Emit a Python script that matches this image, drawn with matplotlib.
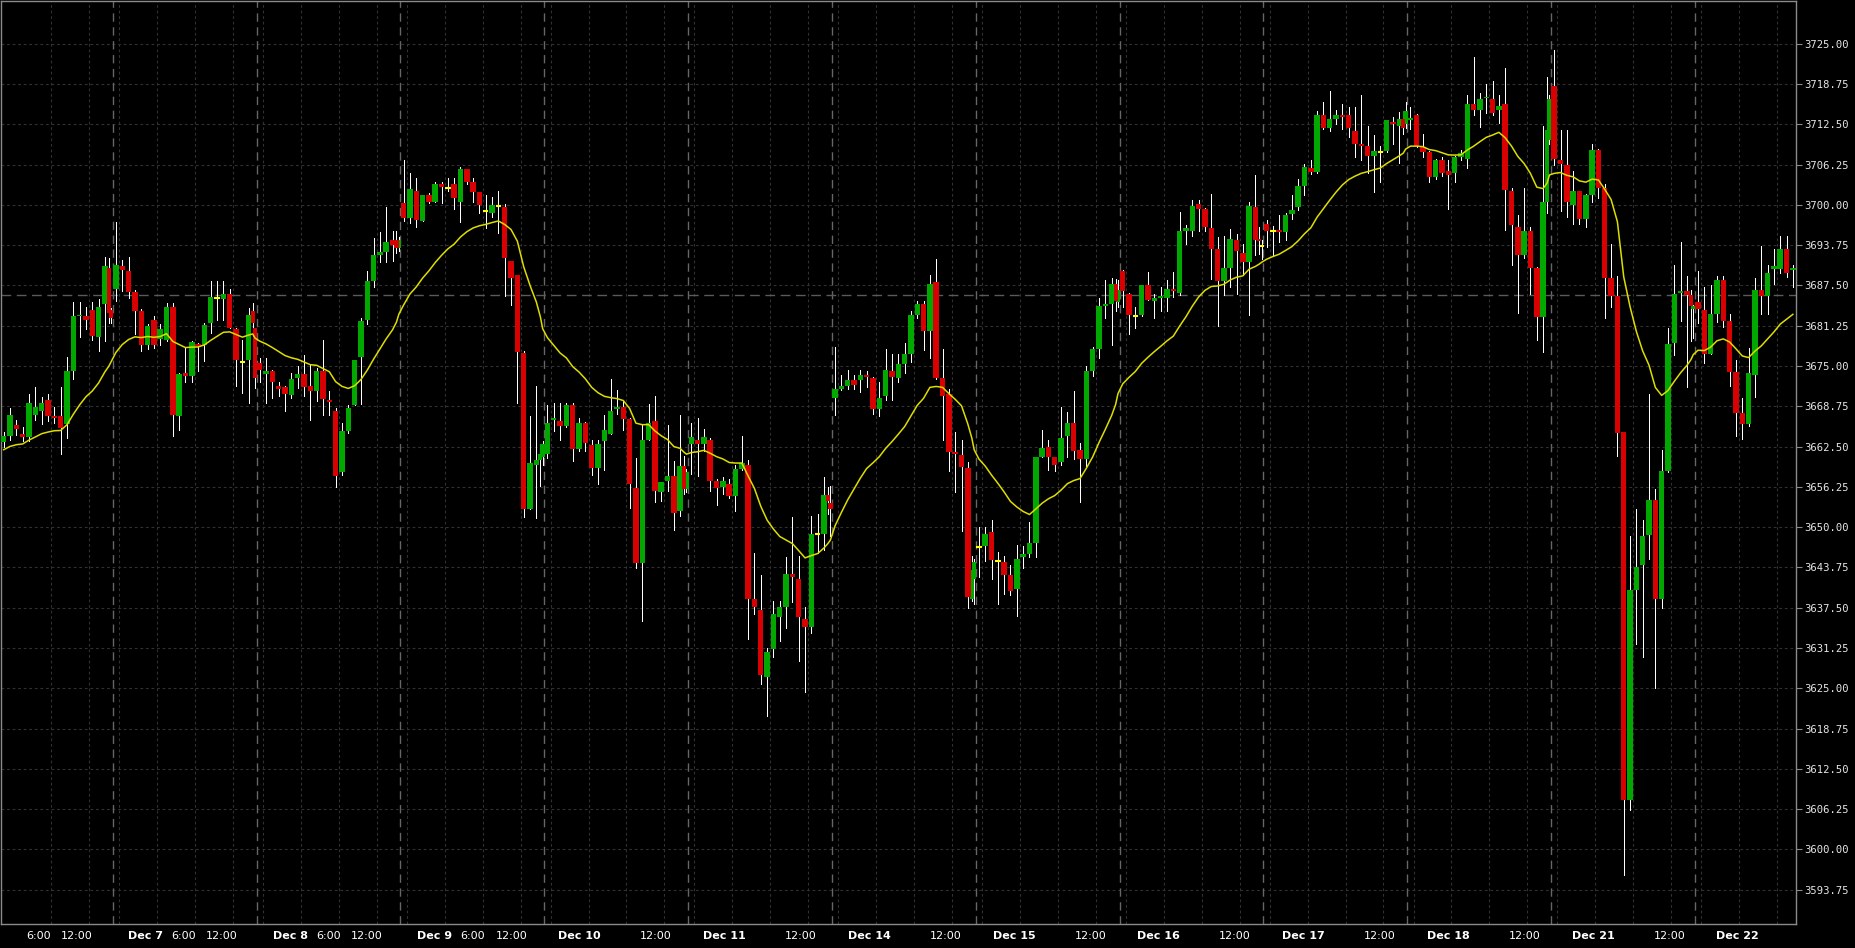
import numpy as np
import pandas as pd
import matplotlib
matplotlib.use("Agg")
import matplotlib.pyplot as plt
from matplotlib.transforms import blended_transform_factory

# ---------------- data ----------------
sessions = ["Dec 4", "Dec 7", "Dec 8", "Dec 9", "Dec 10", "Dec 11", "Dec 14",
            "Dec 15", "Dec 16", "Dec 17", "Dec 18", "Dec 21", "Dec 22"]
first_session_first_slot = 5      # first visible bar is 22:00
last_session_bar_count = 16       # last session runs 17:00 .. 08:00

open_ = [
    # Dec 4
    3663.2, 3664.1, 3665.9, 3664.4, 3664.0, 3667.4, 3668.0, 3669.7, 3667.3, 3667.2, 3666.0, 3674.3, 3682.7, 3682.8, 3683.7, 3679.5, 3684.6, 3690.2, 3683.7,
    # Dec 7
    3687.0, 3690.5, 3689.8, 3686.5, 3683.5, 3678.3, 3682.1, 3679.2, 3679.1, 3684.2, 3667.2, 3673.9, 3673.4, 3678.4, 3678.3, 3681.7, 3685.6, 3685.4, 3686.1, 3680.8, 3675.6, 3675.9, 3683.5, 3680.9,
    # Dec 8
    3675.4, 3673.8, 3674.2, 3671.9, 3671.7, 3670.5, 3673.1, 3673.8, 3671.9, 3671.2, 3674.3, 3669.8, 3668.0, 3658.6, 3664.9, 3669.0, 3676.4, 3682.1, 3688.2, 3692.2, 3692.7, 3694.6, 3694.6, 3693.3,
    # Dec 9
    3700.3, 3698.0, 3702.2, 3697.5, 3701.6, 3700.5, 3703.3, 3702.7, 3703.3, 3700.5, 3705.5, 3703.6, 3702.0, 3699.0, 3698.8, 3699.8, 3699.7, 3691.3, 3689.2, 3677.0, 3652.8, 3659.7, 3660.4, 3660.9,
    # Dec 10
    3661.3, 3666.6, 3666.5, 3665.7, 3668.9, 3662.1, 3666.1, 3662.7, 3659.2, 3663.3, 3664.5, 3668.4, 3668.6, 3666.8, 3656.1, 3644.5, 3663.6, 3666.5, 3655.5, 3657.1, 3658.0, 3652.5, 3659.5, 3655.9,
    # Dec 11
    3662.9, 3663.6, 3662.9, 3663.6, 3657.1, 3656.3, 3656.7, 3654.8, 3659.1, 3659.7, 3638.8, 3637.2, 3626.7, 3631.1, 3636.1, 3637.6, 3642.8, 3642.0, 3635.8, 3634.5, 3648.9, 3649.0, 3655.0, 3653.8,
    # Dec 14
    3670.0, 3671.5, 3671.9, 3672.8, 3672.8, 3673.6, 3673.2, 3668.3, 3670.3, 3674.3, 3673.2, 3675.3, 3676.8, 3682.9, 3684.6, 3680.5, 3688.0, 3673.2, 3670.7, 3661.6, 3661.2, 3659.2, 3638.9, 3642.0,
    # Dec 15
    3646.9, 3647.0, 3649.3, 3644.7, 3644.6, 3642.5, 3640.4, 3645.4, 3645.8, 3647.5, 3660.9, 3662.5, 3660.9, 3660.1, 3664.1, 3666.2, 3662.0, 3660.5, 3674.3, 3677.7, 3684.3, 3684.7, 3687.8, 3685.0,
    # Dec 16
    3689.8, 3686.2, 3682.8, 3682.9, 3687.5, 3685.1, 3685.5, 3685.5, 3687.0, 3686.3, 3696.0, 3696.0, 3700.1, 3699.3, 3696.4, 3693.1, 3688.2, 3690.2, 3694.6, 3692.6, 3691.1, 3699.6, 3694.7, 3693.7,
    # Dec 17
    3697.1, 3696.0, 3696.1, 3695.8, 3698.6, 3699.7, 3703.0, 3705.8, 3705.1, 3714.0, 3711.9, 3713.3, 3713.9, 3713.9, 3711.5, 3709.5, 3709.1, 3707.6, 3708.2, 3708.3, 3712.8, 3712.3, 3713.3, 3712.6,
    # Dec 18
    3713.1, 3713.9, 3709.0, 3708.2, 3704.3, 3706.9, 3705.2, 3705.0, 3707.4, 3707.2, 3715.6, 3714.8, 3716.6, 3716.5, 3714.8, 3715.6, 3702.2, 3696.5, 3692.3, 3695.9, 3690.2, 3682.6, 3700.5, 3710.0,
    # Dec 21
    3718.4, 3707.0, 3706.2, 3700.0, 3702.1, 3697.8, 3701.6, 3708.5, 3702.6, 3688.7, 3685.8, 3664.8, 3607.6, 3640.2, 3644.1, 3648.8, 3654.2, 3638.9, 3658.7, 3678.6, 3686.4, 3686.6, 3686.0, 3683.9,
    # Dec 22
    3685.0, 3683.7, 3676.9, 3683.0, 3688.3, 3682.0, 3674.1, 3667.7, 3666.0, 3673.6, 3686.8, 3685.9, 3690.0, 3690.0, 3693.1, 3689.9,
]
high = [
    3664.7, 3668.5, 3666.7, 3665.6, 3670.7, 3671.8, 3670.2, 3670.7, 3668.6, 3671.8, 3676.4, 3684.9, 3684.9, 3684.2, 3684.9, 3685.4, 3691.9, 3691.8, 3684.0,
    3697.3, 3691.5, 3691.9, 3686.8, 3683.8, 3681.5, 3682.8, 3681.5, 3684.8, 3684.8, 3673.9, 3677.8, 3678.9, 3678.6, 3681.7, 3688.2, 3688.2, 3688.2, 3686.9, 3680.9, 3679.1, 3684.0, 3684.8, 3680.9,
    3676.3, 3676.3, 3674.4, 3672.6, 3671.9, 3673.9, 3675.0, 3676.7, 3675.2, 3674.7, 3679.1, 3671.2, 3668.5, 3666.2, 3669.0, 3676.0, 3682.5, 3689.8, 3694.9, 3695.8, 3699.7, 3696.0, 3696.0, 3695.0,
    3707.0, 3704.9, 3704.1, 3701.6, 3701.8, 3703.6, 3703.5, 3704.2, 3704.2, 3705.9, 3705.6, 3704.1, 3702.0, 3701.6, 3701.3, 3702.2, 3700.1, 3691.3, 3689.2, 3677.4, 3667.2, 3671.9, 3661.3, 3663.4,
    3668.9, 3669.3, 3669.3, 3669.3, 3669.3, 3667.0, 3666.3, 3663.6, 3663.6, 3667.4, 3673.0, 3671.3, 3669.6, 3667.0, 3660.8, 3665.9, 3669.1, 3670.3, 3657.0, 3665.9, 3660.3, 3667.4, 3661.0, 3659.0,
    3666.1, 3667.0, 3665.2, 3663.8, 3657.5, 3657.8, 3657.5, 3659.7, 3664.2, 3660.4, 3646.0, 3642.5, 3631.3, 3638.5, 3638.5, 3645.4, 3651.6, 3645.5, 3637.6, 3651.8, 3652.0, 3657.8, 3656.2, 3656.4,
    3678.0, 3673.6, 3674.4, 3673.6, 3674.4, 3674.3, 3673.3, 3672.5, 3677.7, 3676.9, 3676.8, 3678.5, 3683.6, 3685.1, 3685.1, 3689.1, 3691.6, 3677.7, 3671.5, 3664.7, 3663.5, 3660.1, 3645.5, 3645.0,
    3650.0, 3650.0, 3651.1, 3646.1, 3645.6, 3644.1, 3647.2, 3647.0, 3650.8, 3660.9, 3665.0, 3663.5, 3660.9, 3668.6, 3667.9, 3671.1, 3663.0, 3675.0, 3678.0, 3685.6, 3688.3, 3688.7, 3688.5, 3688.3,
    3689.9, 3686.3, 3684.1, 3687.6, 3689.6, 3686.1, 3687.2, 3688.4, 3689.6, 3698.9, 3696.9, 3700.8, 3700.8, 3699.5, 3701.7, 3695.0, 3695.1, 3696.3, 3695.5, 3693.9, 3700.5, 3704.6, 3696.5, 3694.5,
    3697.6, 3696.8, 3698.5, 3698.8, 3701.6, 3704.0, 3706.4, 3706.9, 3714.6, 3716.0, 3717.6, 3714.8, 3715.6, 3715.2, 3715.2, 3717.1, 3712.3, 3710.8, 3709.2, 3713.2, 3713.7, 3714.4, 3714.4, 3716.0,
    3715.2, 3714.1, 3711.0, 3708.3, 3707.2, 3707.4, 3706.9, 3707.6, 3708.5, 3717.1, 3723.0, 3717.3, 3718.8, 3719.2, 3717.1, 3721.3, 3702.6, 3698.4, 3702.6, 3696.5, 3690.3, 3712.2, 3719.8, 3717.0,
    3724.0, 3711.6, 3711.6, 3705.3, 3702.2, 3701.7, 3709.5, 3708.6, 3703.2, 3694.0, 3688.9, 3664.8, 3648.6, 3652.8, 3651.1, 3670.7, 3655.9, 3662.0, 3680.9, 3690.6, 3694.2, 3688.9, 3686.8, 3684.5,
    3689.8, 3687.3, 3687.5, 3688.9, 3688.9, 3683.0, 3675.9, 3670.0, 3677.8, 3688.7, 3693.6, 3690.6, 3693.1, 3695.1, 3695.1, 3690.6,
]
low = [
    3662.5, 3663.6, 3664.3, 3663.3, 3663.4, 3666.6, 3666.0, 3666.4, 3666.2, 3661.4, 3663.8, 3673.0, 3679.5, 3680.7, 3679.0, 3677.3, 3678.9, 3681.7, 3681.7,
    3685.1, 3686.7, 3685.6, 3679.9, 3677.3, 3677.6, 3677.8, 3678.3, 3678.9, 3664.1, 3665.1, 3672.6, 3672.6, 3674.2, 3675.8, 3680.1, 3682.2, 3682.2, 3680.9, 3671.9, 3670.8, 3669.2, 3680.9, 3671.6,
    3672.6, 3669.2, 3670.0, 3670.3, 3668.0, 3670.0, 3671.6, 3670.3, 3666.7, 3669.5, 3667.4, 3667.4, 3656.3, 3658.1, 3664.6, 3668.9, 3669.1, 3681.5, 3687.2, 3691.2, 3691.2, 3691.3, 3692.6, 3692.8,
    3697.5, 3697.2, 3696.6, 3697.5, 3700.3, 3700.5, 3700.3, 3702.1, 3699.4, 3697.4, 3703.2, 3700.4, 3698.7, 3696.4, 3698.1, 3695.7, 3685.8, 3684.5, 3669.3, 3651.6, 3652.8, 3651.4, 3656.4, 3659.7,
    3660.8, 3664.9, 3663.6, 3665.5, 3660.3, 3661.8, 3661.8, 3658.1, 3656.7, 3658.9, 3664.5, 3667.5, 3665.0, 3653.0, 3643.7, 3635.5, 3663.6, 3653.9, 3654.0, 3655.6, 3649.5, 3651.7, 3655.2, 3655.5,
    3658.2, 3658.0, 3661.8, 3655.6, 3653.4, 3655.2, 3654.5, 3652.5, 3658.8, 3632.6, 3636.6, 3625.6, 3620.7, 3629.9, 3632.4, 3634.4, 3638.4, 3629.3, 3624.4, 3633.5, 3646.0, 3646.4, 3652.0, 3648.7,
    3667.4, 3671.3, 3671.5, 3671.5, 3671.0, 3671.7, 3667.6, 3667.2, 3669.7, 3669.8, 3672.5, 3673.9, 3675.6, 3682.5, 3677.5, 3676.2, 3673.0, 3663.6, 3658.7, 3655.5, 3649.4, 3637.5, 3638.6, 3638.0,
    3642.3, 3644.7, 3642.0, 3638.0, 3639.7, 3639.4, 3636.2, 3643.6, 3645.4, 3645.4, 3660.9, 3658.8, 3658.7, 3659.7, 3660.9, 3660.5, 3653.9, 3659.5, 3673.5, 3676.3, 3682.5, 3678.2, 3683.6, 3684.1,
    3684.1, 3679.9, 3680.9, 3682.8, 3685.2, 3682.4, 3683.6, 3683.6, 3685.7, 3686.0, 3694.0, 3695.1, 3695.9, 3695.9, 3688.5, 3681.2, 3686.0, 3687.2, 3686.1, 3689.1, 3682.9, 3692.2, 3692.4, 3691.6,
    3693.5, 3692.0, 3694.2, 3694.6, 3697.8, 3699.2, 3701.5, 3704.8, 3705.0, 3711.8, 3711.4, 3712.6, 3711.8, 3710.5, 3707.4, 3707.0, 3705.0, 3702.0, 3703.5, 3708.2, 3709.5, 3706.5, 3711.0, 3712.0,
    3711.8, 3709.0, 3707.4, 3703.5, 3704.0, 3704.5, 3699.3, 3703.5, 3707.0, 3705.8, 3713.9, 3712.1, 3714.2, 3713.9, 3712.7, 3696.1, 3690.6, 3683.2, 3691.8, 3686.2, 3679.1, 3677.2, 3698.8, 3709.5,
    3706.2, 3699.0, 3698.2, 3697.1, 3697.1, 3696.5, 3700.5, 3701.0, 3682.5, 3684.1, 3661.0, 3596.1, 3606.1, 3631.8, 3629.9, 3645.1, 3625.1, 3637.4, 3658.5, 3676.7, 3682.0, 3671.7, 3678.9, 3679.4,
    3681.6, 3675.5, 3676.8, 3681.8, 3681.0, 3671.9, 3664.1, 3663.7, 3665.7, 3670.2, 3683.1, 3683.1, 3687.7, 3689.5, 3688.8, 3687.2,
]
close = [
    3664.1, 3667.4, 3665.3, 3664.0, 3669.2, 3668.6, 3669.3, 3667.2, 3666.9, 3665.4, 3674.3, 3682.8, 3682.9, 3682.2, 3679.6, 3684.2, 3690.5, 3683.3, 3682.5,
    3690.7, 3689.9, 3686.5, 3683.5, 3678.3, 3681.2, 3678.3, 3680.7, 3684.2, 3667.4, 3673.7, 3673.4, 3678.7, 3678.1, 3681.4, 3685.7, 3685.6, 3686.1, 3680.9, 3676.0, 3675.6, 3682.9, 3681.7, 3673.1,
    3674.4, 3674.3, 3672.5, 3671.4, 3670.7, 3673.0, 3673.8, 3671.7, 3671.2, 3674.2, 3669.9, 3669.4, 3657.9, 3664.9, 3668.5, 3675.9, 3682.0, 3688.2, 3692.2, 3692.7, 3694.3, 3693.8, 3693.3, 3694.6,
    3698.0, 3702.4, 3697.7, 3701.6, 3700.5, 3703.3, 3702.8, 3702.7, 3701.0, 3705.5, 3703.6, 3702.0, 3700.0, 3699.0, 3700.0, 3699.8, 3691.8, 3688.7, 3677.1, 3652.8, 3660.0, 3660.4, 3661.3, 3662.9,
    3666.2, 3667.0, 3665.7, 3668.9, 3662.1, 3666.1, 3663.0, 3659.2, 3662.9, 3665.0, 3668.1, 3668.6, 3666.8, 3656.7, 3644.5, 3663.6, 3666.1, 3655.6, 3657.0, 3658.0, 3652.2, 3659.5, 3655.9, 3658.5,
    3664.0, 3662.9, 3664.0, 3657.1, 3656.0, 3657.2, 3654.8, 3659.1, 3660.0, 3638.8, 3637.6, 3627.0, 3630.7, 3636.5, 3637.6, 3642.8, 3642.2, 3636.0, 3634.5, 3649.0, 3648.9, 3655.0, 3654.1, 3652.8,
    3671.5, 3671.9, 3672.8, 3672.0, 3673.6, 3673.3, 3668.3, 3670.0, 3674.4, 3673.3, 3675.3, 3676.8, 3682.9, 3684.6, 3680.4, 3687.8, 3673.2, 3670.3, 3661.6, 3661.4, 3659.3, 3639.2, 3643.3, 3644.6,
    3646.9, 3649.0, 3644.9, 3644.7, 3642.5, 3640.1, 3645.0, 3645.8, 3647.5, 3660.9, 3662.3, 3660.9, 3659.7, 3663.8, 3666.2, 3661.8, 3660.5, 3674.3, 3677.7, 3684.3, 3684.6, 3687.8, 3685.1, 3686.8,
    3686.6, 3682.9, 3682.8, 3687.5, 3685.3, 3685.5, 3685.8, 3687.0, 3686.6, 3696.0, 3696.4, 3699.8, 3699.3, 3696.5, 3693.1, 3688.2, 3690.2, 3694.7, 3692.8, 3691.1, 3699.8, 3694.6, 3694.4, 3693.7,
    3695.9, 3696.0, 3695.8, 3698.4, 3699.2, 3703.0, 3705.9, 3705.1, 3714.0, 3711.9, 3713.3, 3713.9, 3713.6, 3711.9, 3709.5, 3709.1, 3707.6, 3708.3, 3708.2, 3713.1, 3712.6, 3713.3, 3712.0, 3714.6,
    3713.5, 3709.2, 3708.2, 3704.3, 3706.9, 3704.9, 3704.7, 3707.4, 3708.1, 3715.6, 3714.8, 3716.5, 3716.8, 3714.3, 3715.3, 3702.3, 3696.9, 3692.3, 3695.9, 3690.2, 3682.6, 3700.5, 3711.6, 3716.5,
    3707.2, 3706.3, 3700.5, 3702.1, 3697.8, 3701.6, 3708.5, 3702.6, 3688.7, 3685.8, 3664.6, 3607.6, 3640.2, 3643.8, 3648.6, 3654.2, 3638.9, 3658.7, 3678.4, 3686.2, 3686.6, 3686.0, 3684.3, 3684.3,
    3683.9, 3676.9, 3683.0, 3688.3, 3682.0, 3674.1, 3667.7, 3666.0, 3673.9, 3686.8, 3685.8, 3689.5, 3690.5, 3693.1, 3689.5, 3690.2,
]

ema_span = 20
ema_seed = 3661.8          # average value just before the first visible bar
reference_price = 3686.0   # horizontal dashed line

ytick_values = [3593.75 + 6.25 * i for i in range(22)]

# ---------------- time layout (hours, session gaps removed) ----------------
SESSION_LEN = 22.75
slot_start = list(range(22)) + [22.0, 22.25]        # 17:00..14:00, 15:00, 15:30
slot_dur = [1.0] * 22 + [0.25, 0.5]
slot_body = [0.86] * 22 + [0.64, 0.7]

xs, widths = [], []
n_sess = len(sessions)
for s in range(n_sess):
    base = (s - 1) * SESSION_LEN
    if s == 0:
        slots = range(first_session_first_slot, 24)
    elif s == n_sess - 1:
        slots = range(0, last_session_bar_count)
    else:
        slots = range(24)
    for k in slots:
        xs.append(base + slot_start[k] + slot_dur[k] / 2)
        widths.append(slot_body[k])

xs = np.array(xs)
widths = np.array(widths)
o = np.array(open_); h = np.array(high); l = np.array(low); c = np.array(close)
assert len(xs) == len(o) == len(h) == len(l) == len(c)

ema = pd.Series(np.r_[ema_seed, c]).ewm(span=ema_span, adjust=False).mean().values[1:]

# ---------------- figure ----------------
W, H = 1855, 948
fig = plt.figure(figsize=(W / 100, H / 100), dpi=100, facecolor="black")
ax = fig.add_axes([0.5 / W, 24 / H, 1795 / W, (924 - 0.5) / H])
ax.set_facecolor("black")
ax.set_xlim(-17.76, 266.17)
ax.set_ylim(3588.42, 3731.72)

# grid
for v in ytick_values:
    ax.axhline(v, color="#313131", lw=0.8, ls=(0, (2.5, 2.5)), zorder=0.5)
grid_T = []
for s in range(n_sess):
    base = (s - 1) * SESSION_LEN
    for off in (1, 7, 13, 19):
        t = base + off
        if -12 < t < 266:
            grid_T.append(t)
for t in grid_T:
    ax.axvline(t, color="#313131", lw=0.8, ls=(0, (2.5, 2.5)), zorder=0.5)
for s in range(1, n_sess):
    ax.axvline((s - 1) * SESSION_LEN, color="#666666", lw=1.0, ls=(0, (6, 4)), zorder=0.6)
ax.axhline(reference_price, color="#5a5a5a", lw=1.0, ls=(0, (7, 4)), zorder=0.6)

# candles
up = c > o
dn = c < o
eq = c == o
ax.vlines(xs, l, h, color="white", lw=0.72, zorder=2, antialiased=False)
ax.bar(xs[up], (c - o)[up], bottom=o[up], width=widths[up], color="#00A800", lw=0, zorder=3)
ax.bar(xs[dn], (o - c)[dn], bottom=c[dn], width=widths[dn], color="#D80000", lw=0, zorder=3)
ax.hlines(c[eq], xs[eq] - widths[eq] / 2, xs[eq] + widths[eq] / 2, color="#FFFF00", lw=1.5, zorder=3)

# moving average
ax.plot(xs, ema, color="#DDDD00", lw=1.1, zorder=4)

# frame
for sp in ax.spines.values():
    sp.set_color("#8a8a8a")
    sp.set_linewidth(1.0)

# y axis
ax.yaxis.tick_right()
ax.set_yticks(ytick_values)
ax.set_yticklabels([f"{v:.2f}" for v in ytick_values], family="DejaVu Sans Mono", fontsize=7.6)
ax.tick_params(axis="y", colors="#8a8a8a", labelcolor="#e6e6e6", length=4, width=0.8, pad=2.2)
ax.set_xticks([])

# x labels
labels = []
for s, name in enumerate(sessions):
    base = (s - 1) * SESSION_LEN
    if s == 0:
        items = [("6:00", 13), ("12:00", 19)]
    elif s <= 3:
        items = [(name, 7), ("6:00", 13), ("12:00", 19)]
    elif s == n_sess - 1:
        items = [(name, 7)]
    else:
        items = [(name, 7), ("12:00", 19)]
    for txt, off in items:
        labels.append((txt, base + off, txt.startswith("Dec")))
t_first, t_last = labels[0][1], labels[-1][1]
px_per_h = 6.323
trans = blended_transform_factory(ax.transData, ax.transAxes)
for txt, t, bold in labels:
    shift_px = -12.4 + 11.0 * (t - t_first) / (t_last - t_first)
    ax.text(t + shift_px / px_per_h, -0.0127, txt, transform=trans, ha="center", va="center",
            color="white", fontsize=8, fontweight="bold" if bold else "normal",
            family="DejaVu Sans", clip_on=False)

fig.savefig("out.png", dpi=100, facecolor="black")
